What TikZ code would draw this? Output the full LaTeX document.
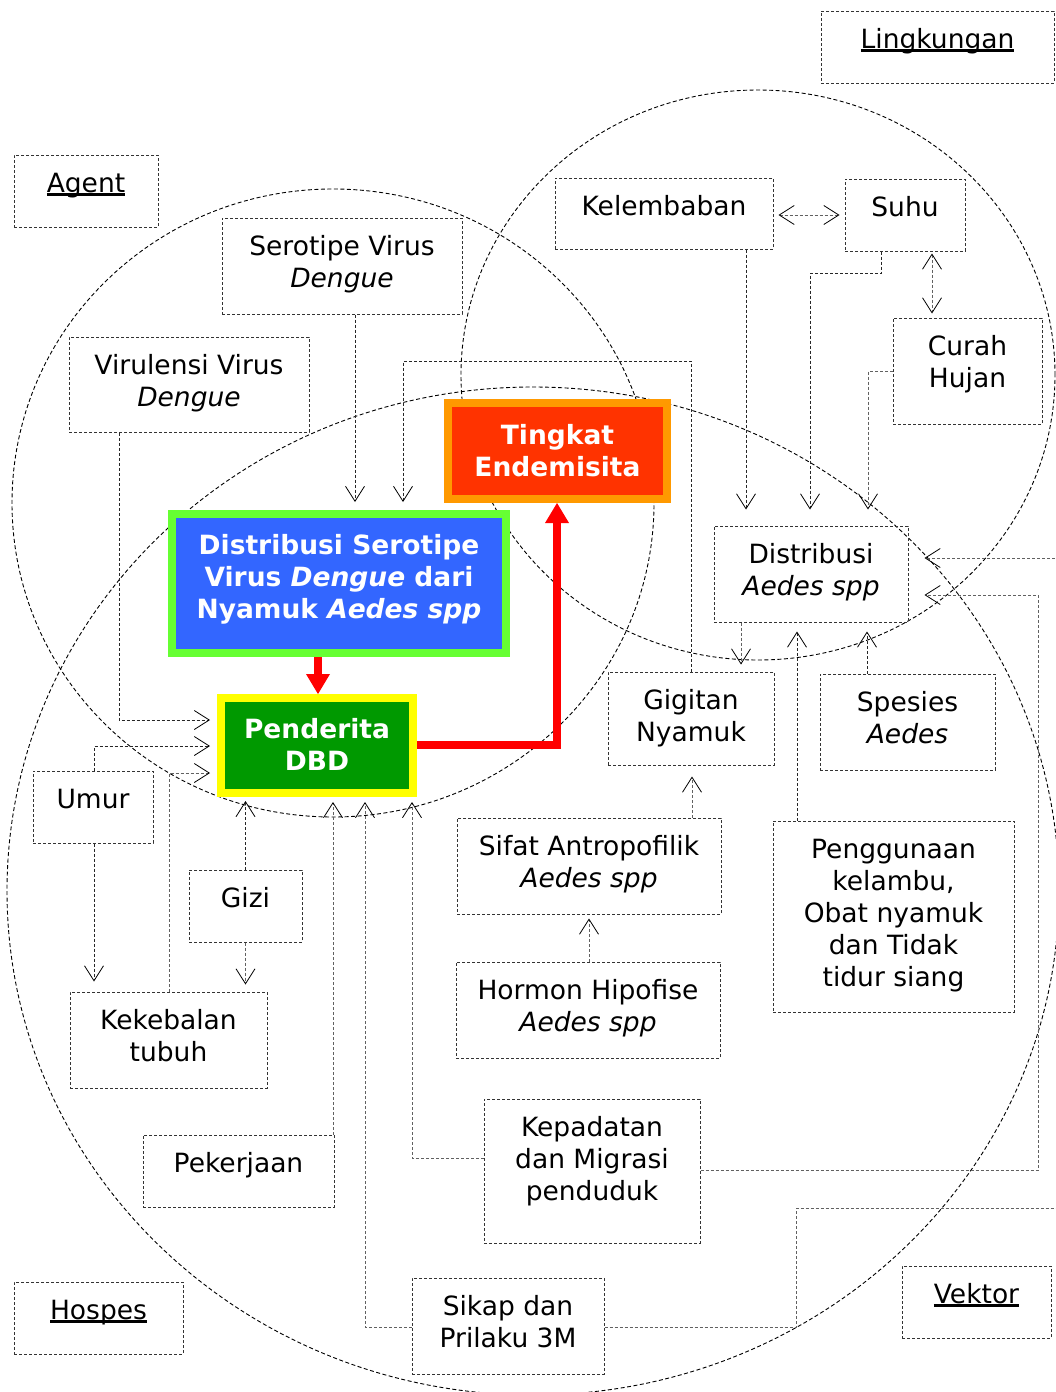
\documentclass[tikz,border=0pt]{standalone}
\usepackage{fontspec}
\setmainfont{DejaVu Sans}
\usetikzlibrary{arrows.meta}
\definecolor{orange1}{HTML}{FF9900}
\definecolor{red1}{HTML}{FF3300}
\definecolor{green1}{HTML}{66FF33}
\definecolor{blue1}{HTML}{3366FF}
\definecolor{yellow1}{HTML}{FFFF00}
\definecolor{green2}{HTML}{009900}
\newsavebox\undlbox
\newcommand{\undl}[1]{\sbox\undlbox{#1}\rlap{\rule[-3.5pt]{\wd\undlbox}{2.5pt}}\usebox\undlbox}
\newcommand{\boxtext}[4][37]{\parbox[c][#3pt][t]{#2pt}{\centering\rule{0pt}{#1pt}#4}}

\begin{document}
\begin{tikzpicture}[x=1pt,y=-1pt,
  every node/.style={inner sep=0pt, font=\fontsize{26.5}{32}\selectfont},
  box/.style={draw=black!80, line width=1pt, dash pattern=on 3pt off 2pt},
  hot/.style={line width=8pt, text=white, font=\fontsize{26.5}{32}\selectfont\bfseries},
  ring/.style={line width=0.9pt, dash pattern=on 4pt off 2.5pt},
  >={Straight Barb[length=15pt,width=19pt,line width=0.8pt,color=black]},
  conn/.style={draw=black!85, line width=0.9pt, dash pattern=on 3pt off 2pt, ->},
  gconn/.style={conn, draw=black!62},
  redarrow/.style={draw=red, line width=7.5pt, -{Triangle[length=20pt,width=24pt,line width=0pt]}}]
  \path[fill=white] (0,0) rectangle (1056,1392);
  \useasboundingbox (0,0) rectangle (1056,1392);

  \draw[ring] (333,503) ellipse [x radius=321pt, y radius=314pt];
  \draw[ring] (758,375) ellipse [x radius=297pt, y radius=285pt];
  \draw[ring] (533,891) ellipse [x radius=526pt, y radius=504pt];

  \node[box] (ling) at (937.5,47) {\boxtext{233}{72}{\undl{Lingkungan}}};
  \node[box] (agent) at (86,191) {\boxtext{144}{72}{\undl{Agent}}};
  \node[box] (hospes) at (98.5,1318) {\boxtext{169}{72}{\undl{Hospes}}};
  \node[box] (vektor) at (976.5,1302) {\boxtext{149}{72}{\undl{Vektor}}};

  \node[box] (sero) at (342,266) {\boxtext{240}{96}{Serotipe Virus\\\textit{Dengue}}};
  \node[box] (viru) at (189,384.5) {\boxtext{240}{95}{Virulensi Virus\\\textit{Dengue}}};
  \node[box] (kelem) at (664,213.5) {\boxtext{218}{71}{Kelembaban}};
  \node[box] (suhu) at (905,215) {\boxtext{120}{72}{Suhu}};
  \node[box] (curah) at (967.5,371) {\boxtext{149}{106}{Curah\\Hujan}};
  \node[box] (daedes) at (811,574) {\boxtext{194}{96}{Distribusi\\\textit{Aedes spp}}};
  \node[box] (gigit) at (691,718.5) {\boxtext{166}{93}{Gigitan\\Nyamuk}};
  \node[box] (spesies) at (907.5,722) {\boxtext{175}{96}{Spesies\\\textit{Aedes}}};
  \node[box] (umur) at (93,807) {\boxtext{120}{72}{Umur}};
  \node[box] (gizi) at (245.5,906) {\boxtext{113}{72}{Gizi}};
  \node[box] (kebal) at (168.5,1040) {\boxtext{197}{96}{Kekebalan\\tubuh}};
  \node[box] (kerja) at (238.5,1171) {\boxtext{191}{72}{Pekerjaan}};
  \node[box] (sifat) at (589,866) {\boxtext{264}{96}{Sifat Antropofilik\\\textit{Aedes spp}}};
  \node[box] (hormon) at (588,1010) {\boxtext{264}{96}{Hormon Hipofise\\\textit{Aedes spp}}};
  \node[box] (padat) at (592,1171) {\boxtext{216}{144}{Kepadatan\\dan Migrasi\\penduduk}};
  \node[box] (sikap) at (508,1326) {\boxtext{192}{96}{Sikap dan\\Prilaku 3M}};
  \node[box] (guna) at (893.5,916.5) {\boxtext{241}{191}{Penggunaan\\kelambu,\\Obat nyamuk\\dan Tidak\\tidur siang}};

  \node[hot, draw=orange1, fill=red1] (tingkat) at (557.5,451) {\boxtext[41]{219}{96}{Tingkat\\Endemisita}};
  \node[hot, draw=green1, fill=blue1] (dsero) at (339,583.5) {\boxtext[40]{334}{139}{Distribusi Serotipe\\Virus \textit{Dengue} dari\\Nyamuk \textit{Aedes spp}}};
  \node[hot, draw=yellow1, fill=green2] (pend) at (317,745.5) {\boxtext[40]{192}{95}{Penderita\\DBD}};

  \draw[conn, shorten >=8pt] (355,0 |- sero.south) -- (355,0 |- dsero.north);
  \draw[conn, shorten >=8pt] (gigit.north) |- (403,361) -- (403,0 |- dsero.north);
  \draw[conn, shorten >=7pt] (119,0 |- viru.south) |- (pend.west |- 0,720);
  \draw[conn, shorten >=7pt] (94,0 |- umur.north) |- (pend.west |- 0,746);
  \draw[gconn, shorten >=7pt] (169,0 |- kebal.north) |- (pend.west |- 0,773);
  \draw[conn, shorten >=10pt] (94,0 |- umur.south) -- (94,0 |- kebal.north);
  \draw[gconn, shorten >=7pt] (gizi.south) -- (gizi.south |- kebal.north);
  \draw[conn, shorten >=4pt] (gizi.north) -- (gizi.north |- pend.south);
  \draw[gconn, shorten >=5pt] (333,0 |- kerja.north) -- (333,0 |- pend.south);
  \draw[gconn, shorten >=5pt] (sikap.west |- 0,1327) -| (365,0 |- pend.south);
  \draw[gconn, shorten >=5pt] (padat.west |- 0,1158) -| (412,0 |- pend.south);
  \draw[gconn, shorten >=16pt] (padat.east |- 0,1170) -| (1038,595) -- (daedes.east |- 0,595);
  \draw[gconn, shorten >=16pt] (sikap.east |- 0,1327) -| (796,1208) -- (1070,1208) |- (daedes.east |- 0,558);
  \draw[conn, shorten >=16pt] (746,0 |- kelem.south) -- (746,0 |- daedes.north);
  \draw[conn, shorten >=16pt] (881,0 |- suhu.south) |- (810,273) -- (810,0 |- daedes.north);
  \draw[gconn, shorten >=16pt] (curah.west |- 0,371) -| (868,0 |- daedes.north);
  \draw[gconn, <->, shorten <=5pt, shorten >=5pt] (kelem.east |- 0,215) -- (suhu.west |- 0,215);
  \draw[gconn, <->, shorten <=2pt, shorten >=4pt] (932,0 |- suhu.south) -- (932,0 |- curah.north);
  \draw[gconn, shorten >=7pt] (741,0 |- daedes.south) -- (741,0 |- gigit.north);
  \draw[conn, shorten >=9pt] (797,0 |- guna.north) -- (797,0 |- daedes.south);
  \draw[conn, shorten >=9pt] (867,0 |- spesies.north) -- (867,0 |- daedes.south);
  \draw[gconn, shorten >=11pt] (692,0 |- sifat.north) -- (692,0 |- gigit.south);
  \draw[gconn, shorten >=4pt] (589,0 |- hormon.north) -- (589,0 |- sifat.south);
  \draw[redarrow] (318,0 |- dsero.south) -- (318,0 |- pend.north);
  \draw[redarrow] (pend.east |- 0,745) -| (557,0 |- tingkat.south);
\end{tikzpicture}
\end{document}
